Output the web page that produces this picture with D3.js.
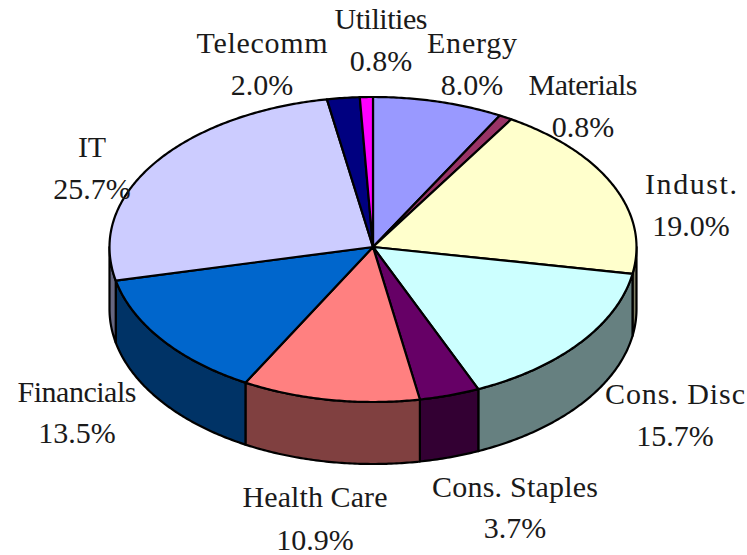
<!DOCTYPE html>
<html>
<head>
<meta charset="utf-8">
<script src="https://cdn.jsdelivr.net/npm/d3@7/dist/d3.min.js"></script>
<style>
html,body{margin:0;padding:0;background:#fff;overflow:hidden}
svg{display:block}
text{font-family:"Liberation Serif",serif;fill:#1a1a1a;text-anchor:middle}
</style>
</head>
<body>
<svg id="chart" width="747" height="555"></svg>
<script>
const categories = ["Energy","Materials","Indust.","Cons. Disc","Cons. Staples","Health Care","Financials","IT","Telecomm","Utilities"];
const shares = [8.0,0.8,19.0,15.7,3.7,10.9,13.5,25.7,2.0,0.8];
const topColors = ["#9999FF","#993366","#FFFFCC","#CCFFFF","#660066","#FF8080","#0066CC","#CCCCFF","#000080","#FF00FF"];
const sideColors = ["#4D4D80","#4D1A33","#808066","#668080","#330033","#804040","#003366","#666680","#000040","#800080"];
const labelX = [472,583,691,675,515,315,77,92,262,381];
const labelNameY = [53,95,194,404,497,507,402,157,53,29];
const labelValueY = [95,137,236,446,538,550,443,199,95,71];
const labelNameWidth = [90,109,92,140,166,145,119,28,131,93];

const svg = d3.select("#chart");
const x = d3.scaleLinear().domain([-1,1]).range([109.5,636.5]);
const y = d3.scaleLinear().domain([-1,0,1]).range([97,247,402]);
const depth = 62;
const pt = a => [x(Math.sin(a)), y(-Math.cos(a))];
const line = d3.line();
const arcPts = (a0,a1) => {
  const n = Math.max(2, Math.ceil((a1-a0)/0.01));
  return d3.range(n+1).map(i => pt(a0+(a1-a0)*i/n));
};
const slices = d3.pie().sort(null).value(d => d)(shares);
const stroke = {stroke:"#000","stroke-width":2.2,"stroke-linejoin":"round"};
const apply = (sel,o)=>{for(const k in o) sel.attr(k,o[k]);return sel;};

// visible wall: front half of the ellipse
const sideG = svg.append("g");
const front0 = Math.PI/2, front1 = Math.PI*1.5;
sideG.selectAll("path").data(slices.filter(s => s.endAngle>front0 && s.startAngle<front1))
  .join("path")
  .attr("d", s => {
    const a0=Math.max(s.startAngle,front0), a1=Math.min(s.endAngle,front1);
    const t=arcPts(a0,a1);
    const b=t.slice().reverse().map(p=>[p[0],p[1]+depth]);
    return line(t.concat(b))+"Z";
  })
  .attr("fill", s => sideColors[s.index])
  .call(apply,stroke);

// top faces
const centre = [x(0),y(0)];
svg.append("g").selectAll("path").data(slices).join("path")
  .attr("d", s => line([centre].concat(arcPts(s.startAngle,s.endAngle)))+"Z")
  .attr("fill", s => topColors[s.index])
  .call(apply,stroke);

// labels
const lg = svg.append("g").attr("font-size",30);
categories.forEach((c,i)=>{
  lg.append("text").attr("x",labelX[i]).attr("y",labelNameY[i])
    .attr("textLength",labelNameWidth[i]).attr("lengthAdjust","spacing").text(c);
  lg.append("text").attr("x",labelX[i]).attr("y",labelValueY[i]).text(shares[i].toFixed(1)+"%");
});
</script>
</body>
</html>
